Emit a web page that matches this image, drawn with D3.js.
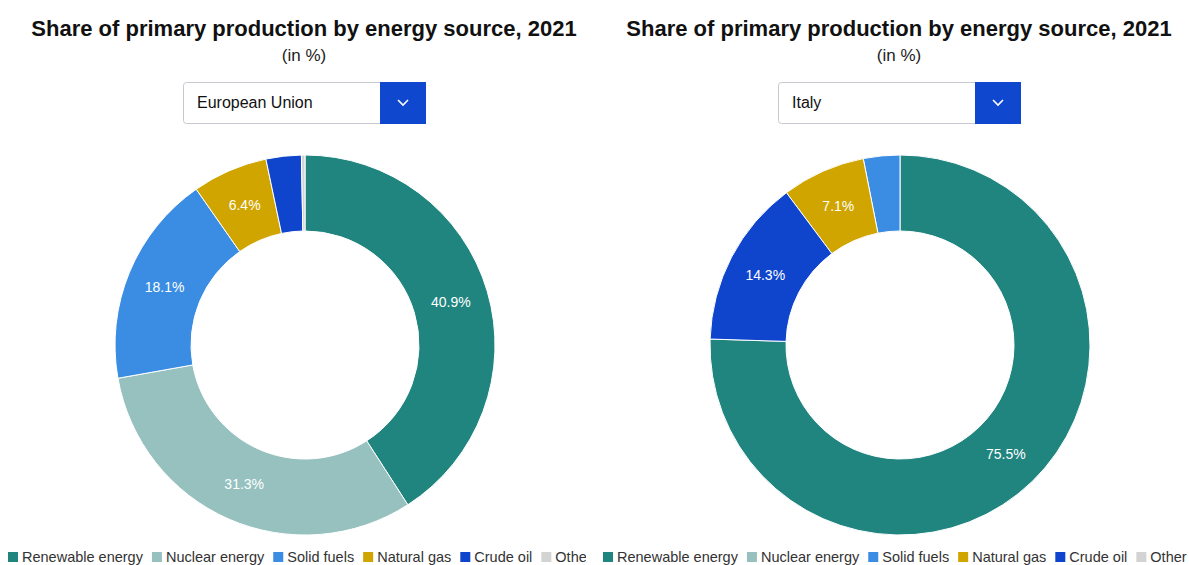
<!DOCTYPE html>
<html>
<head>
<meta charset="utf-8">
<script src="https://cdn.jsdelivr.net/npm/d3@7"></script>
<style>
  body { margin: 0; background: #fff; font-family: "Liberation Sans", Arial, sans-serif; }
  #wrap { display: flex; width: 1189px; height: 565px; overflow: hidden; }
  svg { display: block; overflow: hidden; }
</style>
</head>
<body>
<div id="wrap"></div>
<script>
"use strict";

// data
const sources = ["Renewable energy", "Nuclear energy", "Solid fuels", "Natural gas", "Crude oil", "Other"];
const colors = ["#20847f", "#96c1bf", "#3b8de3", "#d0a500", "#0e45cc", "#d3d3d3"];
const euValues = [40.9, 31.3, 18.1, 6.4, 3.0, 0.3];
const itValues = [75.5, 0, 3.1, 7.1, 14.3, 0];
const panels = [
    { country: "European Union", values: euValues, width: 595, clip: 586 },
    { country: "Italy", values: itValues, width: 594, clip: 594 }
];
const titleText = "Share of primary production by energy source, 2021";
const subText = "(in %)";

const height = 565;
const outerR = 190, innerR = 114;

const color = d3.scaleOrdinal().domain(sources).range(colors);

panels.forEach(function (p, pi) {
    let svg = d3.select("#wrap").append("svg")
        .attr("width", p.width)
        .attr("height", height);

    svg.append("clipPath").attr("id", "clip" + pi)
        .append("rect").attr("width", p.clip).attr("height", height);

    let g = svg.append("g").attr("clip-path", "url(#clip" + pi + ")");
    let cx = 305;

    // titles
    g.append("text")
        .attr("x", cx - 1).attr("y", 36)
        .attr("text-anchor", "middle")
        .style("font-size", "22px").style("font-weight", "bold")
        .attr("fill", "#111")
        .text(titleText);
    g.append("text")
        .attr("x", cx - 1).attr("y", 61)
        .attr("text-anchor", "middle")
        .style("font-size", "17px")
        .attr("fill", "#222")
        .text(subText);

    // fake dropdown
    let dd = g.append("g").attr("transform", "translate(" + (cx - 122) + ",82)");
    dd.append("rect")
        .attr("x", 0.5).attr("y", 0.5)
        .attr("width", 242).attr("height", 41)
        .attr("rx", 3)
        .attr("fill", "#fff")
        .attr("stroke", "#c6c9d0");
    dd.append("rect")
        .attr("x", 197).attr("y", 0)
        .attr("width", 46).attr("height", 42)
        .attr("fill", "#0f47cf");
    dd.append("path")
        .attr("d", "M215,18 L220,23 L225,18")
        .attr("fill", "none")
        .attr("stroke", "#fff")
        .attr("stroke-width", 1.6);
    dd.append("text")
        .attr("x", 14).attr("y", 26)
        .style("font-size", "16px")
        .attr("fill", "#111")
        .text(p.country);

    // donut
    let data = sources.map((s, i) => ({ source: s, value: p.values[i] }));
    let pie = d3.pie().value(d => d.value);
    let arc = d3.arc().innerRadius(innerR).outerRadius(outerR);
    let labelArc = d3.arc().innerRadius((innerR + outerR) / 2).outerRadius((innerR + outerR) / 2);

    let donut = g.append("g").attr("transform", "translate(" + cx + ",345)");
    let arcs = pie(data).filter(d => d.value > 0);
    donut.selectAll("path")
        .data(arcs)
        .enter()
        .append("path")
        .attr("d", arc)
        .attr("fill", d => color(d.data.source))
        .attr("stroke", "#fff")
        .attr("stroke-width", 1);

    donut.selectAll("text")
        .data(arcs.filter(d => d.value >= 5))
        .enter()
        .append("text")
        .attr("transform", d => "translate(" + labelArc.centroid(d) + ")")
        .attr("text-anchor", "middle")
        .attr("dy", "0.35em")
        .style("font-size", "14px")
        .attr("fill", "#fff")
        .text(d => d.value.toFixed(1) + "%");

    // legend
    let legend = g.append("g").attr("transform", "translate(8,557)");
    let x = 0;
    sources.forEach(function (s) {
        let item = legend.append("g").attr("transform", "translate(" + x + ",0)");
        item.append("rect")
            .attr("x", 0).attr("y", -5)
            .attr("width", 10).attr("height", 10)
            .attr("fill", color(s));
        let t = item.append("text")
            .attr("x", 14).attr("y", 5)
            .style("font-size", "14.5px")
            .attr("fill", "#333")
            .text(s);
        x += 14 + t.node().getComputedTextLength() + 9;
    });
});
</script>
</body>
</html>
